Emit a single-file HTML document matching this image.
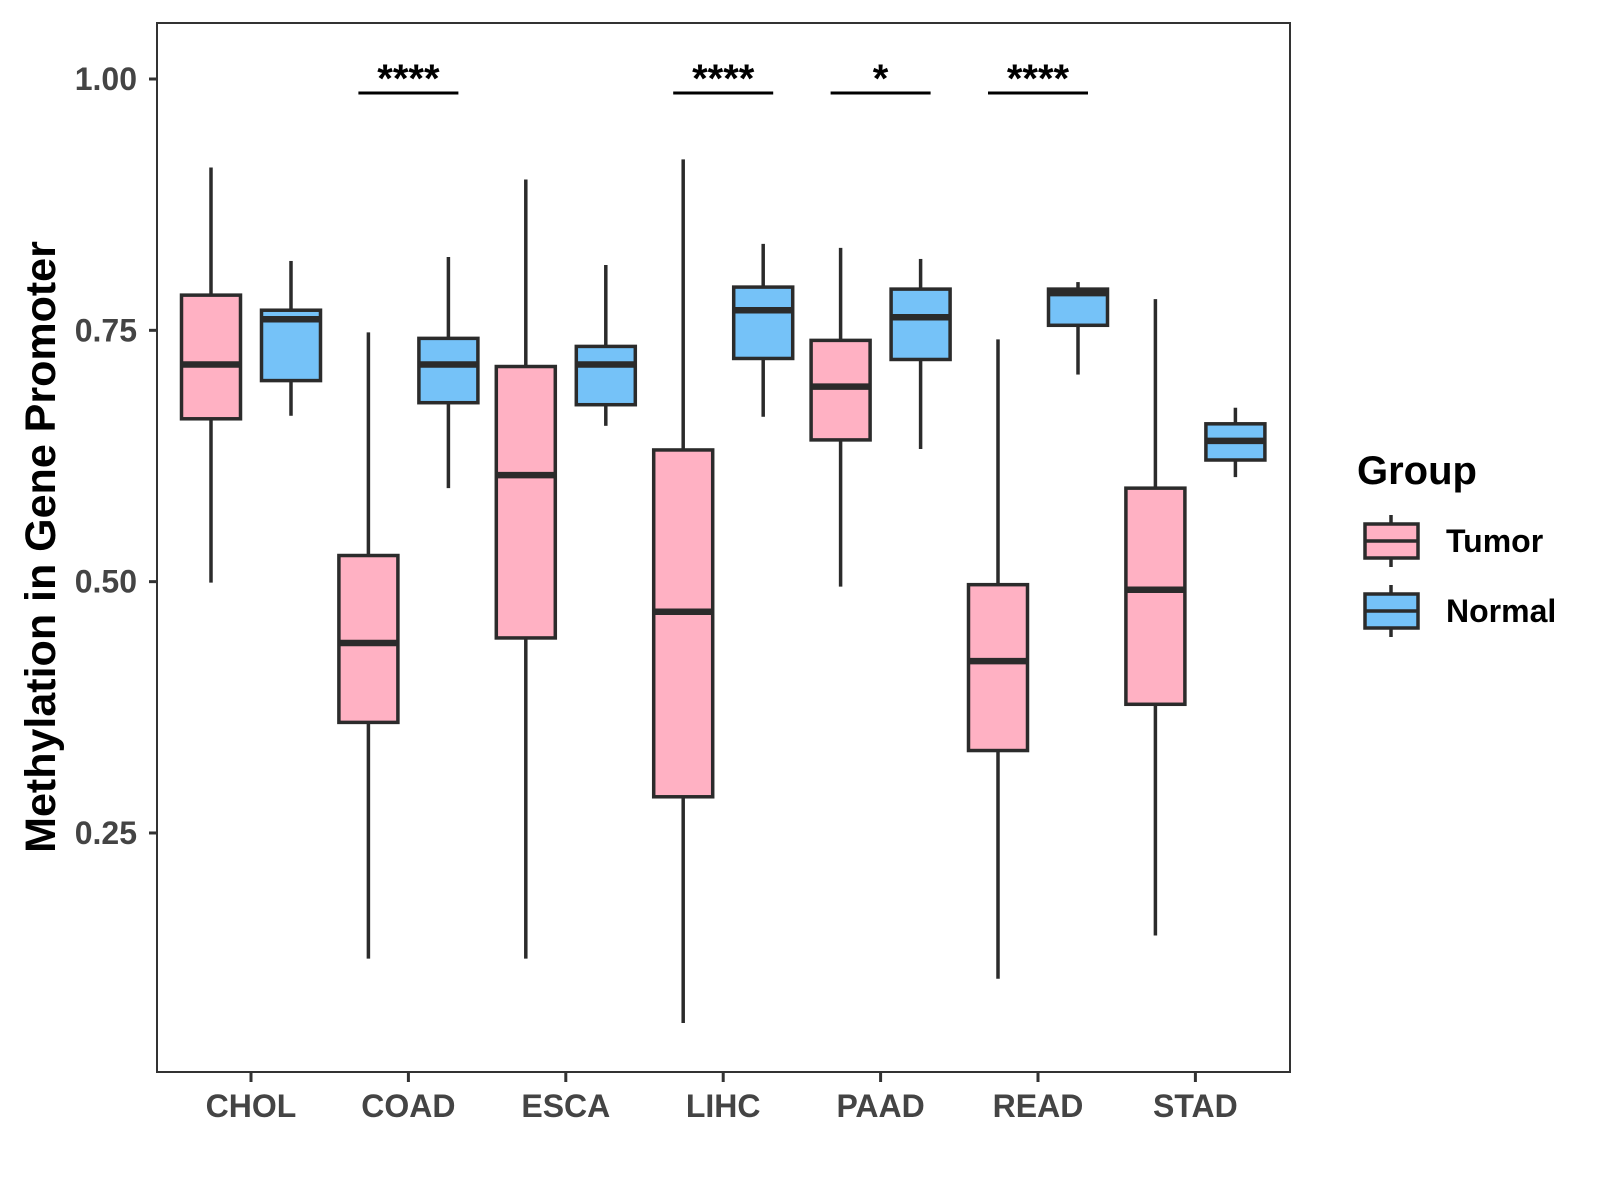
<!DOCTYPE html>
<html><head><meta charset="utf-8"><style>
html,body{margin:0;padding:0;background:#fff;}
svg{display:block;font-family:"Liberation Sans",Arial,sans-serif;}
</style></head><body>
<svg id="chart" width="1600" height="1200" viewBox="0 0 1600 1200">
<g id="plot"></g>
</svg>
<script>
const categories = ["CHOL","COAD","ESCA","LIHC","PAAD","READ","STAD"];
const groups = ["Tumor","Normal"];
// [lower whisker, Q1, median, Q3, upper whisker]
const tumorStats = [
 [0.499,0.662,0.716,0.785,0.912],
 [0.125,0.360,0.439,0.526,0.748],
 [0.125,0.444,0.606,0.714,0.900],
 [0.061,0.286,0.470,0.631,0.920],
 [0.495,0.641,0.694,0.740,0.832],
 [0.105,0.332,0.421,0.497,0.741],
 [0.148,0.378,0.492,0.593,0.781]
];
const normalStats = [
 [0.665,0.700,0.761,0.770,0.819],
 [0.593,0.678,0.716,0.742,0.823],
 [0.655,0.676,0.716,0.734,0.815],
 [0.664,0.722,0.770,0.793,0.836],
 [0.632,0.721,0.763,0.791,0.821],
 [0.706,0.755,0.787,0.791,0.798],
 [0.604,0.621,0.640,0.657,0.673]
];
const signifLabels = ["","****","","****","*","****",""];
const yTicks = [0.25,0.50,0.75,1.00];
const yTickLabels = ["0.25","0.50","0.75","1.00"];

const NS="http://www.w3.org/2000/svg";
const g=document.getElementById('plot');
const L=157,T=23,R=1290,B=1072;
function y(v){return 79+(1-v)*1005.3;}
function x(i){return 251+i*157.4;}
function mk(tag,attrs,parent){const e=document.createElementNS(NS,tag);for(const k in attrs)e.setAttribute(k,attrs[k]);(parent||g).appendChild(e);return e;}
const colors=["#FFB1C3","#75C2F8"];
const OFF=40,W=59;
[tumorStats,normalStats].forEach((stats,gi)=>{
  stats.forEach((s,i)=>{
    const cx=x(i)+(gi===0?-OFF:OFF);
    const grp=mk('g',{});
    
    
    mk('line',{x1:cx,x2:cx,y1:y(s[4]),y2:y(s[3]),stroke:'#2b2b2b','stroke-width':3.5},grp);
    mk('line',{x1:cx,x2:cx,y1:y(s[1]),y2:y(s[0]),stroke:'#2b2b2b','stroke-width':3.5},grp);
    mk('rect',{x:cx-W/2,y:y(s[3]),width:W,height:y(s[1])-y(s[3]),fill:colors[gi],stroke:'#2b2b2b','stroke-width':3.5},grp);
    mk('line',{x1:cx-W/2,x2:cx+W/2,y1:y(s[2]),y2:y(s[2]),stroke:'#2b2b2b','stroke-width':6.5},grp);
  });
});
signifLabels.forEach((lab,i)=>{
  if(!lab)return;
  const l=mk('line',{x1:x(i)-50,x2:x(i)+50,y1:93,y2:93,stroke:'#000','stroke-width':3});
  
  
  const t=mk('text',{x:x(i),y:92,'text-anchor':'middle','font-size':40,'font-weight':'bold',fill:'#000'});
  t.textContent=lab;
  
  
});
const frame=mk('rect',{x:L,y:T,width:R-L,height:B-T,fill:'none',stroke:'#333','stroke-width':2});


yTicks.forEach((v,i)=>{
  mk('line',{x1:L-8,x2:L,y1:y(v),y2:y(v),stroke:'#333','stroke-width':3});
  const t=mk('text',{x:L-20,y:y(v)+11,'text-anchor':'end','font-size':32,'font-weight':'bold',fill:'#444'});
  t.textContent=yTickLabels[i];
  
  
});
categories.forEach((c,i)=>{
  mk('line',{x1:x(i),x2:x(i),y1:B,y2:B+10,stroke:'#333','stroke-width':3});
  const t=mk('text',{x:x(i),y:B+45,'text-anchor':'middle','font-size':32,'font-weight':'bold',fill:'#444'});
  t.textContent=c;
  
  
});
const yt=mk('text',{x:0,y:0,transform:'translate(55,547) rotate(-90)','text-anchor':'middle','font-size':43,'font-weight':'bold',fill:'#000'});
yt.textContent='Methylation in Gene Promoter';


const lt=mk('text',{x:1357,y:484,'font-size':40,'font-weight':'bold',fill:'#000'});
lt.textContent='Group';


const keyY=[541,611];
groups.forEach((gname,gi)=>{
  const ky=keyY[gi];
  const lg=mk('g',{});
  
  
  mk('line',{x1:1391,x2:1391,y1:ky-26,y2:ky+26,stroke:'#2b2b2b','stroke-width':3.5},lg);
  mk('rect',{x:1365,y:ky-17,width:53,height:34,fill:colors[gi],stroke:'#2b2b2b','stroke-width':3.5},lg);
  mk('line',{x1:1365,x2:1418,y1:ky,y2:ky,stroke:'#2b2b2b','stroke-width':3.5},lg);
  const t=mk('text',{x:1446,y:ky+11,'font-size':32,'font-weight':'bold',fill:'#000'},lg);
  t.textContent=gname;
});
</script>
</body></html>
